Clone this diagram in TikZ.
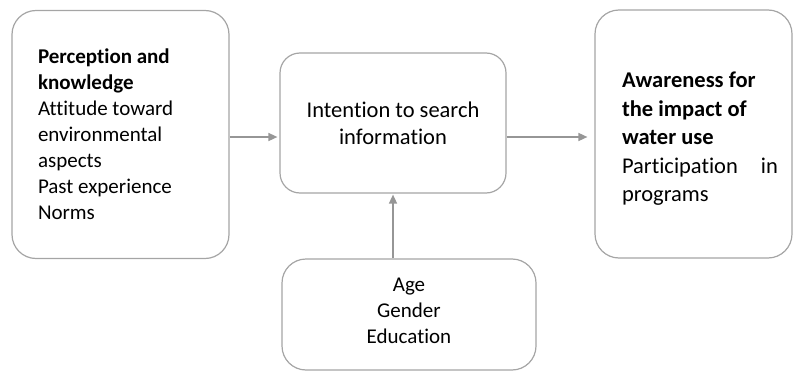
\documentclass[tikz,border=0pt]{standalone}
\usepackage{fontspec}
\setmainfont[Ligatures=NoCommon]{Carlito}
\usepackage{tikz}
\usetikzlibrary{arrows.meta}

\definecolor{boxgray}{RGB}{165,165,165}
\definecolor{arrowgray}{RGB}{150,150,150}
\tikzset{
  factor/.style={shape=rectangle,draw=boxgray,line width=1.2pt,rounded corners=24pt,
    inner sep=0pt,font=\fontsize{21}{26}\selectfont},
  link/.style={draw=arrowgray,line width=1.5pt,-{Triangle[length=9pt,width=8pt]}}
}

\begin{document}
\begin{tikzpicture}[x=1pt,y=-1pt]
\useasboundingbox (0,0) rectangle (793,372);
\node[factor,minimum width=217pt,minimum height=248pt,text width=165pt,align=flush left] (P) at (120.5,134.5)
  {\textbf{Perception and}\\ \textbf{knowledge}\\ Attitude toward\\ environmental\\ aspects\\ Past experience\\ Norms};
\node[factor,minimum width=226pt,minimum height=140pt,rounded corners=20pt,align=center,
  font=\fontsize{22.5}{27}\selectfont] (I) at (393,123)
  {Intention to search\\ information};
\node[factor,minimum width=197pt,minimum height=248pt,font=\fontsize{22.5}{28.5}\selectfont] (A) at (693.5,134)
  {\hspace*{13pt}\begin{minipage}{156pt}\raggedright\vspace*{10pt}
   \textbf{Awareness for}\\ \textbf{the impact of}\\ \textbf{water use}\\ Participation\hfill in\\ programs\end{minipage}};
\node[factor,minimum width=254pt,minimum height=111pt] (D) at (409,314.5)
  {\begin{minipage}{200pt}\centering Age\\ Gender\\ Education\par\vspace*{8pt}\end{minipage}};
\path ([yshift=-2.5pt]P.east) edge[link,shorten >=2pt] ([yshift=-2.5pt]P.east -| I.west);
\path ([yshift=-14pt]I.east) edge[link,shorten >=7pt] ([yshift=-14pt]I.east -| A.west);
\path (D.north -| I.south) edge[link,shorten >=1pt] (I.south);
\end{tikzpicture}
\end{document}
